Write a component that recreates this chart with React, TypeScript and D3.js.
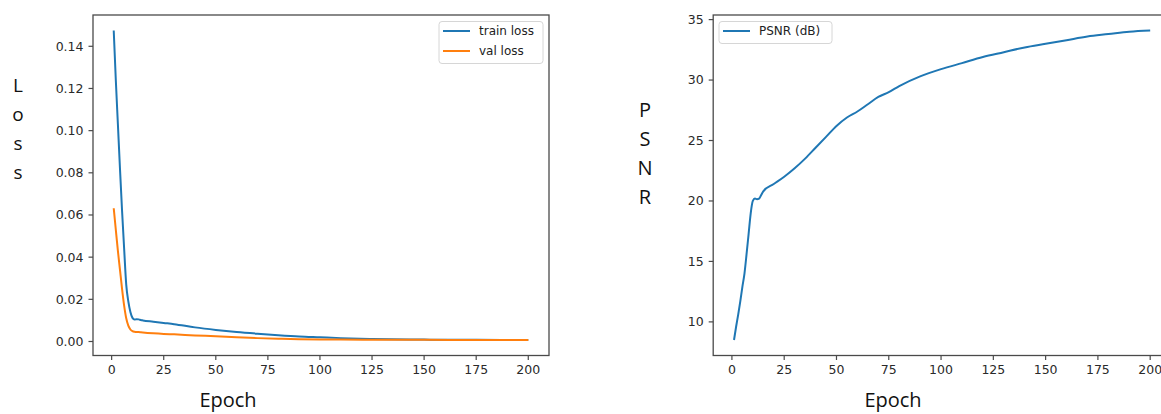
import React from 'react';
import * as d3 from 'd3';

// values
const lossEpochs = [1, 2, 3, 4, 5, 6, 7, 8, 9, 10, 11, 12, 13, 14, 15, 20, 25, 30, 40, 50, 60, 70, 80, 90, 100, 110, 125, 150, 175, 200];
const trainLoss = [0.1475, 0.124, 0.103, 0.082, 0.062, 0.044, 0.027, 0.019, 0.014, 0.0112, 0.0104, 0.0106, 0.0105, 0.0102, 0.0100, 0.0094, 0.0088, 0.0082, 0.0067, 0.0055, 0.0045, 0.0037, 0.0030, 0.0024, 0.0020, 0.0016, 0.0012, 0.0009, 0.0008, 0.0007];
const valLoss = [0.0632, 0.053, 0.043, 0.034, 0.025, 0.017, 0.011, 0.0075, 0.0057, 0.0049, 0.0046, 0.0045, 0.0045, 0.0044, 0.0043, 0.0039, 0.0036, 0.0034, 0.0029, 0.0025, 0.0020, 0.0016, 0.0013, 0.0011, 0.0010, 0.0009, 0.0008, 0.0008, 0.0007, 0.0007];

const psnrEpochs = [1, 2, 3, 4, 5, 6, 7, 8, 9, 10, 11, 12, 13, 14, 15, 20, 25, 30, 35, 40, 45, 50, 55, 60, 65, 70, 75, 80, 90, 100, 110, 120, 130, 140, 150, 160, 170, 180, 190, 200];
const psnr = [8.5, 9.6, 10.6, 11.7, 12.9, 14.0, 15.6, 17.3, 19.0, 20.0, 20.2, 20.15, 20.2, 20.5, 20.8, 21.4, 22.0, 22.7, 23.5, 24.4, 25.3, 26.2, 26.9, 27.4, 28.0, 28.6, 29.0, 29.5, 30.3, 30.9, 31.4, 31.9, 32.3, 32.7, 33.0, 33.3, 33.6, 33.8, 34.0, 34.1];

const xTicks = [0, 25, 50, 75, 100, 125, 150, 175, 200];
const lossTicks = [0, 0.02, 0.04, 0.06, 0.08, 0.1, 0.12, 0.14];
const psnrTicks = [10, 15, 20, 25, 30, 35];

const blue = '#1f77b4';
const orange = '#ff7f0e';
const frameColor = '#4a4a4a';
const tickFont = 'DejaVu Sans, sans-serif';
const labelFont = 'Open Sans, sans-serif';

const top = 15, bottom = 355.5;

// matplotlib style 5% padding
const padded = (ext: [number, number]) => {
    const p = (ext[1] - ext[0]) * 0.05;
    return [ext[0] - p, ext[1] + p];
};

const Panel = ({ left, right, xs, series, yTicks, yFmt }: any) => {
    const allY = series.flatMap((s: any) => s.values);
    const x = d3.scaleLinear().domain(padded(d3.extent(xs) as [number, number])).range([left, right]);
    const y = d3.scaleLinear().domain(padded(d3.extent(allY) as [number, number])).range([bottom, top]);
    const line = d3.line<number>()
        .x((_, i) => x(xs[i]))
        .y((d) => y(d))
        .curve(d3.curveMonotoneX);
    return (
        <g>
            {series.map((s: any) => (
                <path key={s.name} d={line(s.values) || ''} fill="none" stroke={s.color} strokeWidth={2} />
            ))}
            <rect x={left} y={top} width={right - left} height={bottom - top} fill="none" stroke={frameColor} strokeWidth={1.3} />
            {/* y ticks */}
            {yTicks.map((t: number) => (
                <g key={t}>
                    <line x1={left - 4.5} x2={left} y1={y(t)} y2={y(t)} stroke={frameColor} strokeWidth={1.2} />
                    <text x={left - 9.5} y={y(t)} dy="0.35em" textAnchor="end" fontSize={12.5} fontFamily={tickFont} fill="#2a2a2a">
                        {yFmt(t)}
                    </text>
                </g>
            ))}
            {/* x ticks */}
            {xTicks.map((t) => (
                <g key={t}>
                    <line x1={x(t)} x2={x(t)} y1={bottom} y2={bottom + 4.5} stroke={frameColor} strokeWidth={1.2} />
                    <text x={x(t)} y={373.5} textAnchor="middle" fontSize={12.5} fontFamily={tickFont} fill="#2a2a2a">
                        {t}
                    </text>
                </g>
            ))}
        </g>
    );
};

const Legend = ({ x0, y0, w, items }: any) => (
    <g>
        <rect x={x0} y={y0} width={w} height={items.length * 20 + 2} rx={3} fill="white" fillOpacity={0.8} stroke="#d6d6d6" strokeWidth={1} />
        {items.map((it: any, i: number) => (
            <g key={it.name}>
                <line x1={x0 + 4} x2={x0 + 31} y1={y0 + 9.5 + i * 20} y2={y0 + 9.5 + i * 20} stroke={it.color} strokeWidth={2} />
                <text x={x0 + 40} y={y0 + 9.5 + i * 20} dy="0.35em" fontSize={12} fontFamily={tickFont} fill="#222">
                    {it.name}
                </text>
            </g>
        ))}
    </g>
);

const StackedLabel = ({ x, y, letters, size }: any) => (
    <g>
        {letters.map((c: string, i: number) => (
            <text key={i} x={x} y={y + i * 29} textAnchor="middle" fontSize={size} fontFamily={labelFont} fill="#111">
                {c}
            </text>
        ))}
    </g>
);

export default function App() {
    const lossSeries = [
        { name: 'train loss', values: trainLoss, color: blue },
        { name: 'val loss', values: valLoss, color: orange },
    ];
    const psnrSeries = [{ name: 'PSNR (dB)', values: psnr, color: blue }];
    return (
        <div style={{ position: 'absolute', left: 0, top: 0 }}>
            <svg width={1161} height={414} style={{ display: 'block', background: 'white' }}>
                <Panel left={93} right={549} xs={lossEpochs} series={lossSeries} yTicks={lossTicks} yFmt={d3.format('.2f')} />
                <Legend x0={439} y0={21.5} w={104} items={lossSeries} />
                <StackedLabel x={18} y={91.5} letters={['L', 'o', 's', 's']} size={19} />
                <text x={228} y={407} textAnchor="middle" fontSize={20} fontFamily={labelFont} fill="#111">Epoch</text>

                <Panel left={713.2} right={1171} xs={psnrEpochs} series={psnrSeries} yTicks={psnrTicks} yFmt={d3.format('d')} />
                <Legend x0={719} y0={21.5} w={113} items={psnrSeries} />
                <StackedLabel x={645} y={116.5} letters={['P', 'S', 'N', 'R']} size={20} />
                <text x={893} y={407} textAnchor="middle" fontSize={20} fontFamily={labelFont} fill="#111">Epoch</text>
            </svg>
        </div>
    );
}
